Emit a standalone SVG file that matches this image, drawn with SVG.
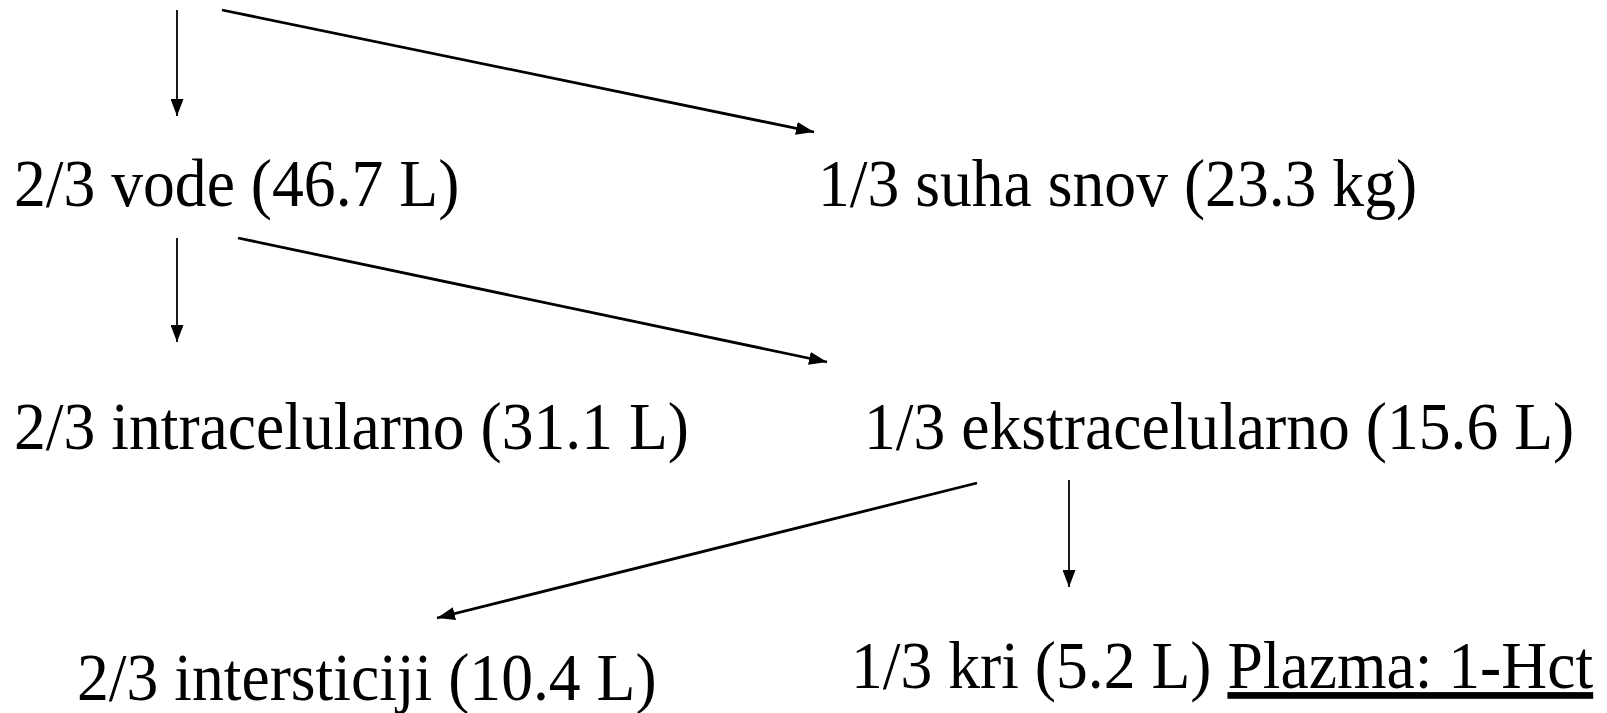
<svg xmlns="http://www.w3.org/2000/svg" width="1607" height="713" viewBox="0 0 1607 713">
<defs>
<style>
.t{font-family:"Liberation Serif","Times New Roman",serif;font-size:67px;fill:#000}
.c{stroke:#000;fill:none}
.v{stroke-width:1.8}
.d{stroke-width:2.8}
</style>
<marker id="ah" viewBox="0 0 17 13" refX="17" refY="6.5" markerWidth="17" markerHeight="13" markerUnits="userSpaceOnUse" orient="auto">
<path d="M0,0 L17,6.5 L0,13 z" fill="#000"/>
</marker>
<marker id="ahd" viewBox="0 0 18 13" refX="18" refY="6.5" markerWidth="18" markerHeight="13" markerUnits="userSpaceOnUse" orient="auto">
<path d="M0,0 L18,6.5 L0,13 z" fill="#000"/>
</marker>
</defs>
<rect width="1607" height="713" fill="#fff"/>
<g id="connectors">
<line class="c v" x1="177" y1="10" x2="177" y2="116" marker-end="url(#ah)"/>
<line class="c d" x1="222" y1="10" x2="814" y2="132" marker-end="url(#ahd)"/>
<line class="c v" x1="177" y1="238" x2="177" y2="342" marker-end="url(#ah)"/>
<line class="c d" x1="238" y1="238" x2="827" y2="362" marker-end="url(#ahd)"/>
<line class="c d" x1="977" y1="483" x2="437" y2="618" marker-end="url(#ahd)"/>
<line class="c v" x1="1069" y1="480" x2="1069" y2="587" marker-end="url(#ah)"/>
</g>
<g id="n-vode"><text class="t" transform="translate(14,206) scale(0.95,1)">2/3 vode (46.7 L)</text></g>
<g id="n-suha"><text class="t" transform="translate(818,206) scale(0.95,1)">1/3 suha snov (23.3 kg)</text></g>
<g id="n-intra"><text class="t" transform="translate(14,449) scale(0.95,1)">2/3 intracelularno (31.1 L)</text></g>
<g id="n-ekstra"><text class="t" transform="translate(864,449) scale(0.95,1)">1/3 ekstracelularno (15.6 L)</text></g>
<g id="n-inter"><text class="t" transform="translate(77,700) scale(0.95,1)">2/3 intersticiji (10.4 L)</text></g>
<g id="n-kri"><text class="t" transform="translate(851,688) scale(0.95,1)">1/3 kri (5.2 L) <tspan text-decoration="underline">Plazma: 1-Hct</tspan></text></g>
</svg>
